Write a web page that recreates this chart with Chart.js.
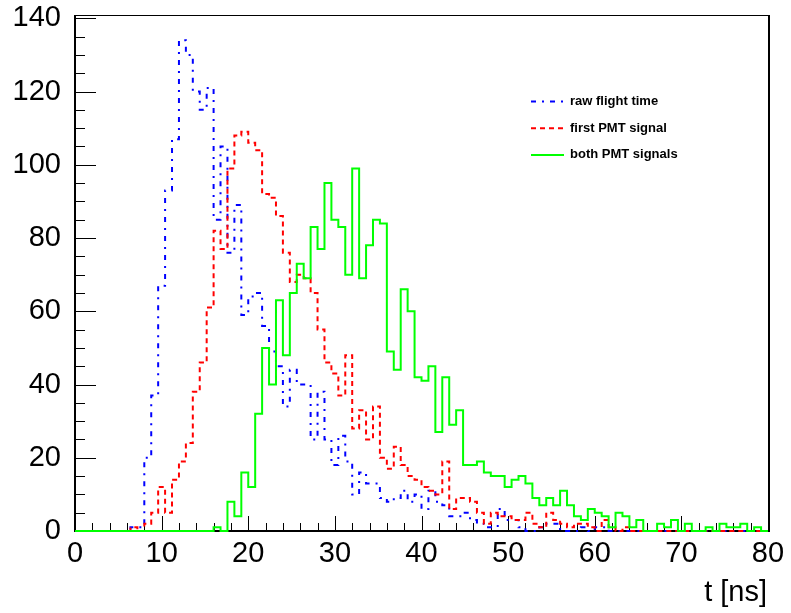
<!DOCTYPE html>
<html>
<head>
<meta charset="utf-8">
<script src="https://cdn.jsdelivr.net/npm/chart.js@4.4.1/dist/chart.umd.min.js"></script>
<style>
  html, body { margin: 0; padding: 0; background: #fff; }
  canvas { display: block; }
</style>
</head>
<body>
<canvas id="histChart" width="791" height="613"></canvas>
<script>
// 100 bins of 0.8 ns between 0 and 80 ns
const binWidth = 0.8;

const rawFlight = [
  0, 0, 0, 0, 0, 0, 0, 0, 1, 1,
  20, 37, 67, 93, 107, 134, 130, 120, 115, 121,
  85, 105, 76, 89, 59, 64, 65, 56, 49, 45,
  34, 44, 40, 40, 25, 38, 25, 18, 26, 19,
  10, 16, 13, 13, 9, 8, 9, 11, 8, 10,
  6, 11, 8, 7, 4, 4, 5, 3, 2, 1,
  1, 6, 3, 3, 1, 0, 0, 1, 2, 2,
  0, 0, 0, 1, 0, 1, 1, 0, 0, 0,
  0, 0, 0, 0, 0, 0, 0, 0, 0, 0,
  0, 0, 0, 0, 0, 0, 0, 0, 0, 0
];

const firstPmt = [
  0, 0, 0, 0, 0, 0, 0, 0, 1, 0,
  2, 5, 12, 5, 14, 19, 24, 38, 46, 61,
  82, 77, 99, 108, 109, 106, 104, 92, 91, 86,
  76, 68, 70, 69, 65, 55, 46, 43, 37, 48,
  28, 33, 25, 34, 20, 17, 23, 18, 15, 14,
  12, 11, 10, 19, 6, 9, 9, 8, 5, 2,
  5, 4, 4, 3, 3, 5, 2, 1, 5, 3,
  2, 1, 2, 2, 1, 0, 3, 1, 0, 1,
  0, 0, 0, 0, 0, 0, 0, 0, 0, 0,
  0, 0, 0, 0, 0, 0, 0, 0, 0, 0
];

const bothPmt = [
  0, 0, 0, 0, 0, 0, 0, 0, 0, 0,
  0, 0, 0, 0, 0, 0, 0, 0, 0, 0,
  1, 0, 8, 4, 16, 12, 32, 50, 40, 63,
  48, 65, 73, 69, 83, 77, 95, 85, 83, 70,
  99, 69, 78, 85, 84, 49, 44, 66, 60, 42,
  41, 45, 27, 42, 29, 33, 18, 18, 19, 16,
  15, 15, 12, 14, 15, 13, 9, 7, 9, 7,
  11, 7, 4, 3, 6, 5, 4, 1, 5, 4,
  1, 3, 0, 0, 2, 1, 3, 0, 2, 0,
  0, 1, 0, 2, 1, 1, 2, 0, 1, 0
];

const xTicks = [0, 10, 20, 30, 40, 50, 60, 70, 80];
const yTicks = [0, 20, 40, 60, 80, 100, 120, 140];

const FONT = "'Liberation Sans', Arial, sans-serif";

// left edge of every bin, plus the right edge of the last one
function toSteps(counts) {
  const pts = counts.map((c, i) => ({ x: i * binWidth, y: c }));
  pts.push({ x: counts.length * binWidth, y: counts[counts.length - 1] });
  return pts;
}

// ROOT-like frame with inward ticks, legend and axis title
const rootFrame = {
  id: 'rootFrame',
  beforeDatasetsDraw(chart) {
    const { ctx, chartArea: a, scales: { x, y } } = chart;
    ctx.save();
    ctx.strokeStyle = '#000';
    ctx.lineWidth = 1;
    ctx.beginPath();
    for (let v = x.min; v <= x.max; v += 2) {
      const px = Math.round(x.getPixelForValue(v)) + 0.5;
      const len = v % 10 === 0 ? 15 : 8;
      ctx.moveTo(px, a.bottom);
      ctx.lineTo(px, a.bottom - len);
    }
    for (let v = 0; v <= 140; v += 5) {
      const py = Math.round(y.getPixelForValue(v)) + 0.5;
      const len = v % 20 === 0 ? 21 : 10;
      ctx.moveTo(a.left, py);
      ctx.lineTo(a.left + len, py);
    }
    ctx.stroke();
    ctx.strokeRect(a.left + 0.5, a.top + 0.5, a.right - a.left, a.bottom - a.top);
    ctx.lineWidth = 2;
    ctx.beginPath();
    ctx.moveTo(a.left, a.top);
    ctx.lineTo(a.left, a.bottom);
    ctx.lineTo(a.right + 1, a.bottom);
    ctx.lineTo(a.right + 1, a.top);
    ctx.stroke();
    ctx.restore();
  },
  afterDraw(chart) {
    const { ctx, chartArea: a } = chart;
    ctx.save();
    // legend
    const order = [2, 1, 0];
    order.forEach((di, row) => {
      const ds = chart.data.datasets[di];
      const yy = 101.5 + row * 26.7;
      ctx.strokeStyle = ds.borderColor;
      ctx.lineWidth = 2;
      ctx.setLineDash(ds.borderDash || []);
      ctx.beginPath();
      ctx.moveTo(531, yy);
      ctx.lineTo(564, yy);
      ctx.stroke();
      ctx.setLineDash([]);
      ctx.fillStyle = '#000';
      ctx.font = 'bold 13px ' + FONT;
      ctx.textBaseline = 'middle';
      ctx.textAlign = 'left';
      ctx.fillText(ds.label, 570, yy);
    });
    // x axis title
    ctx.font = '29px ' + FONT;
    ctx.textAlign = 'right';
    ctx.textBaseline = 'alphabetic';
    ctx.fillStyle = '#000';
    ctx.fillText('t [ns]', a.right - 1, 601);
    ctx.restore();
  }
};

const ctx = document.getElementById('histChart');
new Chart(ctx, {
  type: 'line',
  data: {
    datasets: [
      {
        label: 'both PMT signals',
        data: toSteps(bothPmt),
        borderColor: '#00ff00',
        borderWidth: 2,
        order: 0
      },
      {
        label: 'first PMT signal',
        data: toSteps(firstPmt),
        borderColor: '#ff0000',
        borderWidth: 2,
        borderDash: [5, 4],
        order: 1
      },
      {
        label: 'raw flight time',
        data: toSteps(rawFlight),
        borderColor: '#0000ff',
        borderWidth: 2,
        borderDash: [5, 6, 2, 6],
        order: 2
      }
    ]
  },
  options: {
    responsive: false,
    animation: false,
    elements: {
      line: { stepped: true, fill: false, tension: 0, borderJoinStyle: 'miter', borderCapStyle: 'butt' },
      point: { radius: 0, hoverRadius: 0 }
    },
    datasets: { line: { clip: 4, stepped: true } },
    layout: { padding: { top: 15, right: 23, left: 0, bottom: 0 } },
    plugins: {
      legend: { display: false },
      tooltip: { enabled: false }
    },
    scales: {
      x: {
        type: 'linear',
        min: 0,
        max: 80,
        grid: { display: false, drawTicks: false },
        border: { display: false },
        afterBuildTicks: s => { s.ticks = xTicks.map(v => ({ value: v })); },
        afterFit: s => { s.height = 82; s.paddingLeft = 0; s.paddingRight = 0; },
        ticks: {
          color: '#000',
          padding: 8,
          maxRotation: 0,
          font: { size: 29, family: FONT, lineHeight: 1 }
        }
      },
      y: {
        type: 'linear',
        min: 0,
        max: 140.9,
        grid: { display: false, drawTicks: false },
        border: { display: false },
        afterBuildTicks: s => { s.ticks = yTicks.map(v => ({ value: v })); },
        afterFit: s => { s.width = 75; s.paddingTop = 0; s.paddingBottom = 0; },
        ticks: {
          color: '#000',
          padding: 14,
          font: { size: 29, family: FONT, lineHeight: 1 }
        }
      }
    }
  },
  plugins: [rootFrame]
});
</script>
</body>
</html>
